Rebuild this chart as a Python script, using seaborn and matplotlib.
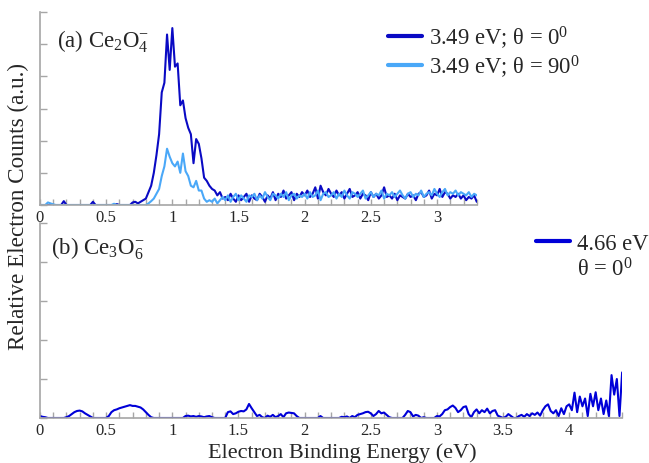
import numpy as np
import pandas as pd
import matplotlib
matplotlib.use('Agg')
import matplotlib.pyplot as plt
from matplotlib.ticker import MultipleLocator, NullFormatter
from matplotlib.lines import Line2D
import seaborn as sns

# energy grid step (eV)
STEP = 0.02

# (a) Ce2O4-, 3.49 eV, theta = 0 deg
ce2o4_par = [
    0, 0, 0, 0, 0, 0, 0, 0, 0, 0.12,
    0, 0, 0, 0, 0, 0, 0, 0, 0, 0,
    0.10, 0, 0, 0, 0, 0, 0, 0, 0, 0.03,
    0, 0, 0, 0, 0, 0.08, 0.10, 0.05, 0.10, 0.15,
    0.20, 0.40, 0.60, 1.00, 1.55, 2.20, 3.50, 3.80, 5.30, 4.20,
    5.50, 4.30, 4.40, 3.10, 3.25, 2.70, 2.40, 2.20, 1.30, 2.05,
    1.90, 1.45, 0.85, 0.75, 0.60, 0.50, 0.45, 0.30, 0.40, 0.20,
    0.25, 0.15, 0.35, 0.20, 0.10, 0.30, 0.15, 0.25, 0.35, 0.10,
    0.30, 0.20, 0.15, 0.35, 0.25, 0.10, 0.30, 0.20, 0.40, 0.15,
    0.35, 0.25, 0.45, 0.20, 0.30, 0.40, 0.15, 0.35, 0.25, 0.40,
    0.30, 0.45, 0.25, 0.35, 0.55, 0.20, 0.60, 0.40, 0.30, 0.50,
    0.35, 0.25, 0.45, 0.30, 0.40, 0.20, 0.35, 0.50, 0.25, 0.30,
    0.40, 0.20, 0.35, 0.30, 0.15, 0.40, 0.25, 0.35, 0.20, 0.30,
    0.55, 0.25, 0.30, 0.20, 0.35, 0.15, 0.30, 0.25, 0.20, 0.35,
    0.25, 0.30, 0.15, 0.35, 0.40, 0.25, 0.30, 0.45, 0.20, 0.35,
    0.30, 0.50, 0.25, 0.40, 0.35, 0.20, 0.30, 0.25, 0.35, 0.20,
    0.30, 0.15, 0.25, 0.20, 0.30, 0.10,
]

# (a) Ce2O4-, 3.49 eV, theta = 90 deg
ce2o4_perp = [
    0, 0, 0, 0.08, 0.05, 0.02, 0, 0, 0, 0,
    0, 0, 0, 0, 0, 0, 0, 0, 0, 0,
    0, 0, 0, 0, 0, 0, 0, 0, 0.04, 0,
    0, 0, 0, 0, 0, 0, 0, 0, 0, 0,
    0, 0.05, 0.12, 0.20, 0.35, 0.50, 0.90, 1.20, 1.75, 1.50,
    1.30, 1.20, 1.35, 1.00, 1.60, 1.05, 0.90, 0.60, 0.55, 0.75,
    0.45, 0.45, 0.20, 0.10, 0.15, 0.10, 0.20, 0.05, 0.15, 0.25,
    0.15, 0.30, 0.10, 0.25, 0.35, 0.15, 0.30, 0.20, 0.10, 0.30,
    0.25, 0.35, 0.15, 0.30, 0.20, 0.40, 0.25, 0.15, 0.35, 0.30,
    0.20, 0.35, 0.25, 0.40, 0.15, 0.30, 0.35, 0.20, 0.30, 0.25,
    0.35, 0.20, 0.40, 0.25, 0.30, 0.45, 0.15, 0.35, 0.40, 0.25,
    0.30, 0.40, 0.20, 0.35, 0.25, 0.45, 0.30, 0.20, 0.40, 0.35,
    0.25, 0.35, 0.45, 0.20, 0.30, 0.40, 0.25, 0.35, 0.30, 0.45,
    0.20, 0.35, 0.30, 0.40, 0.25, 0.35, 0.45, 0.30, 0.20, 0.35,
    0.40, 0.25, 0.35, 0.30, 0.45, 0.25, 0.35, 0.40, 0.30, 0.50,
    0.35, 0.25, 0.40, 0.50, 0.30, 0.40, 0.35, 0.45, 0.30, 0.40,
    0.35, 0.30, 0.40, 0.25, 0.35, 0.30,
]

# (b) Ce3O6-, 4.66 eV, theta = 0 deg
ce3o6 = [
    0.05, 0.03, 0.02, 0, 0, 0, 0, 0, 0, 0,
    0.02, 0.05, 0.10, 0.15, 0.18, 0.19, 0.17, 0.12, 0.08, 0.04,
    0, 0, 0, 0, 0, 0, 0.05, 0.15, 0.20, 0.22,
    0.25, 0.27, 0.29, 0.31, 0.33, 0.31, 0.31, 0.29, 0.27, 0.22,
    0.15, 0.08, 0.02, 0, 0, 0, 0, 0, 0, 0,
    0, 0, 0, 0, 0, 0.05, 0.06, 0.04, 0.05, 0.03,
    0.05, 0.04, 0.02, 0.04, 0.05, 0.02, 0, 0, 0, 0,
    0, 0.15, 0.17, 0.10, 0.12, 0.16, 0.18, 0.17, 0.22, 0.36,
    0.25, 0.15, 0.05, 0.08, 0.02, 0, 0.06, 0.03, 0.08, 0.02,
    0.05, 0.10, 0.02, 0.12, 0.14, 0.13, 0.12, 0.05, 0, 0,
    0, 0, 0, 0, 0, 0, 0.05, 0, 0, 0,
    0, 0, 0, 0, 0.03, 0.02, 0.04, 0, 0.05, 0.02,
    0.08, 0.10, 0.12, 0.15, 0.16, 0.12, 0.05, 0.10, 0.18, 0.12,
    0.14, 0.08, 0.02, 0, 0, 0, 0, 0, 0.08, 0.18,
    0.15, 0.04, 0.08, 0.06, 0, 0.02, 0, 0, 0, 0,
    0.05, 0.04, 0.10, 0.20, 0.22, 0.28, 0.32, 0.26, 0.15, 0.20,
    0.28, 0.30, 0.10, 0.02, 0.15, 0.22, 0.12, 0.20, 0.15, 0.24,
    0.12, 0.18, 0.20, 0.06, 0.03, 0, 0.03, 0.10, 0.05, 0,
    0, 0.05, 0.08, 0.03, 0.10, 0.05, 0.12, 0.08, 0.14, 0.06,
    0.20, 0.30, 0.35, 0.18, 0.12, 0.20, 0.05, 0.25, 0.10, 0.30,
    0.35, 0.20, 0.65, 0.15, 0.55, 0.30, 0.50, 0.05, 0.62, 0.30,
    0.66, 0.20, 0.50, 0.10, 0.45, 0.05, 1.10, 0.60, 1.00, 0.05, 1.17,
]

label_par = '3.49 eV; θ = 0$^{0}$'
label_perp = '3.49 eV; θ = 90$^{0}$'
label_b1 = '4.66 eV'
label_b2 = 'θ = 0$^{0}$'

DARK = '#0a0ac4'
LIGHT = '#4aa8f8'
BLUE = '#0000d8'
GREY = '#a6a6a6'

sns.set_style('ticks')
plt.rcParams['font.family'] = ['Liberation Serif', 'DejaVu Serif']
plt.rcParams['mathtext.fontset'] = 'custom'
plt.rcParams['mathtext.rm'] = 'Liberation Serif'
plt.rcParams['mathtext.it'] = 'Liberation Serif'

energy_a = np.round(np.arange(len(ce2o4_par)) * STEP, 2)
energy_b = np.round(np.arange(len(ce3o6)) * STEP, 2)

df_a = pd.concat([
    pd.DataFrame({'energy': energy_a, 'counts': ce2o4_par, 'series': label_par}),
    pd.DataFrame({'energy': energy_a, 'counts': ce2o4_perp, 'series': label_perp}),
])
df_b = pd.DataFrame({'energy': energy_b, 'counts': ce3o6})

fig = plt.figure(figsize=(6.49, 4.64), dpi=100)
ax1 = fig.add_axes([0.0616, 0.556, 0.673, 0.416])
ax2 = fig.add_axes([0.0616, 0.097, 0.897, 0.42])

sns.lineplot(data=df_a, x='energy', y='counts', hue='series',
             palette={label_par: DARK, label_perp: LIGHT},
             linewidth=1.5, ax=ax1, legend=False)
sns.lineplot(data=df_b, x='energy', y='counts', color=BLUE,
             linewidth=1.5, ax=ax2, legend=False)

for ax, xmax, ymax in ((ax1, 3.3, 6), (ax2, 4.4, 5)):
    sns.despine(ax=ax)
    for s in ('left', 'bottom'):
        ax.spines[s].set_color(GREY)
        ax.spines[s].set_linewidth(1.2)
        ax.spines[s].set_zorder(3)
    ax.set_xticks(np.arange(0, xmax + 0.01, 0.5))
    ax.set_xticklabels(['{:g}'.format(t) for t in np.arange(0, xmax + 0.01, 0.5)])
    ax.xaxis.set_minor_locator(MultipleLocator(0.1))
    ax.yaxis.set_major_locator(MultipleLocator(1))
    ax.yaxis.set_major_formatter(NullFormatter())
    ax.tick_params(which='both', direction='in', color=GREY, width=1,
                   length=4, labelsize=12, pad=3)
    ax.tick_params(axis='y', which='major', length=5)
    ax.set_xlabel('')
    ax.set_ylabel('')
    ax.set_xlim(0, xmax)
    ax.set_ylim(0, ymax)

ax1.text(0.04, 0.85, r'(a) Ce$_2$O$_4^{-}$', transform=ax1.transAxes,
         fontsize=16.5, va='center')
ax2.text(0.019, 0.875, r'(b) Ce$_3$O$_6^{-}$', transform=ax2.transAxes,
         fontsize=16.5, va='center')

fig.legend([Line2D([], [], color=DARK, lw=3), Line2D([], [], color=LIGHT, lw=3)],
           [label_par, label_perp], loc='upper left',
           bbox_to_anchor=(0.598, 0.948), frameon=False, fontsize=16.3,
           handlelength=1.5, handletextpad=0.3, labelspacing=0.1,
           borderaxespad=0, borderpad=0)
fig.legend([Line2D([], [], color=BLUE, lw=3), Line2D([], [], lw=0)],
           [label_b1, label_b2], loc='upper left',
           bbox_to_anchor=(0.826, 0.496), frameon=False, fontsize=16.3,
           handlelength=1.5, handletextpad=0.3, labelspacing=0.15,
           borderaxespad=0, borderpad=0)

fig.text(0.527, 0.024, 'Electron Binding Energy (eV)', ha='center',
         va='center', fontsize=16)
fig.text(0.028, 0.556, 'Relative Electron Counts (a.u.)', ha='center',
         va='center', rotation=90, fontsize=16.7)

fig.savefig('out.png', dpi=100)
